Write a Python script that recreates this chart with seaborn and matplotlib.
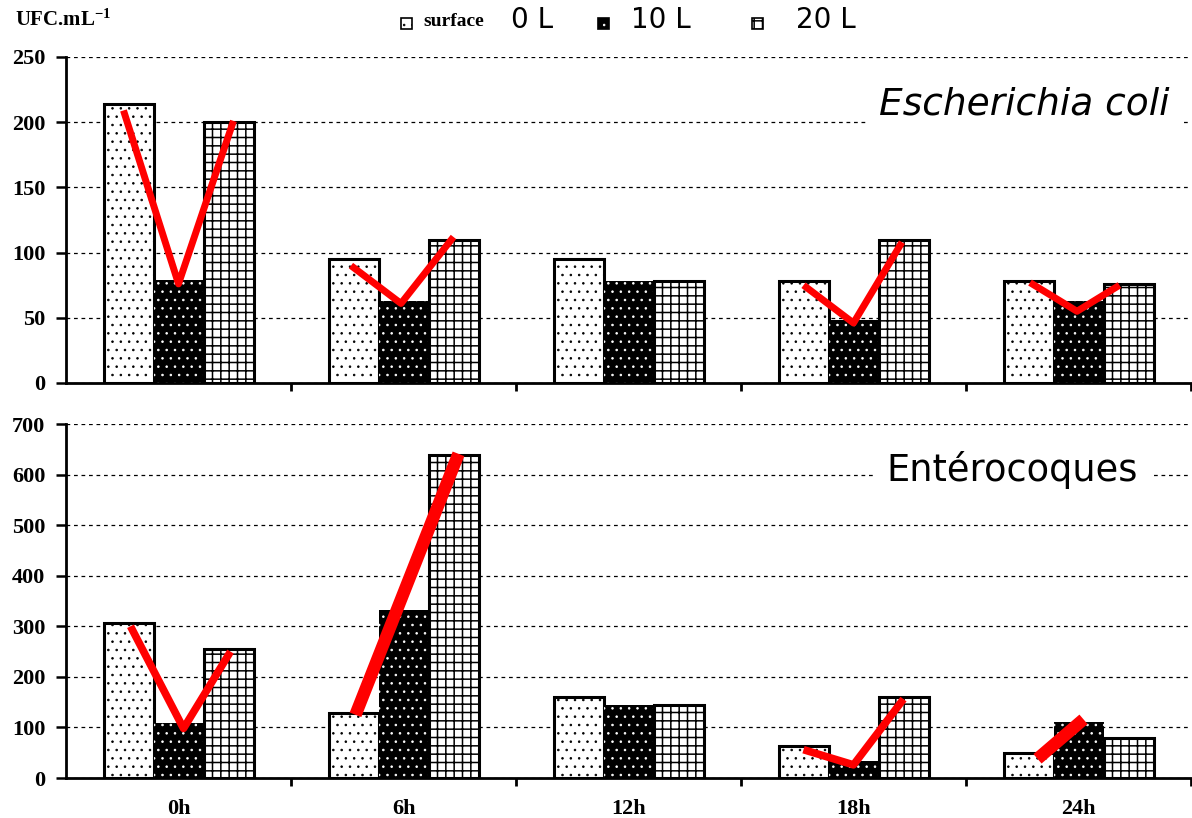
import matplotlib
matplotlib.use("Agg")
import matplotlib.pyplot as plt
from matplotlib.patches import Rectangle
import seaborn as sns
import pandas as pd

# ---- data ----
times = ["0h", "6h", "12h", "18h", "24h"]
volumes = ["0 L", "10 L", "20 L"]

ecoli_0L = [214, 95, 95, 78, 78]
ecoli_10L = [79, 63, 78, 48, 63]
ecoli_20L = [200, 110, 78, 110, 76]

entero_0L = [307, 129, 161, 64, 50]
entero_10L = [109, 332, 144, 33, 110]
entero_20L = [255, 638, 144, 161, 80]

# red trend strokes: category index, bar slot (-1 = 0 L, 0 = 10 L, 1 = 20 L), value
ecoli_trend_time = [0, 1, 3, 4]
ecoli_trend_slots = [[-1.1, 0, 1.1], [-1.05, -0.05, 1.0], [-1.0, 0, 0.97], [-0.97, -0.03, 0.82]]
ecoli_trend_vals = [[209, 76, 201], [90, 61, 112], [75, 46, 108], [77, 55, 75]]

entero_trend_time = [0, 1, 3, 4]
entero_trend_slots = [[-0.96, 0.1, 1.04], [-0.96, 1.1], [-1.0, 0, 1.0], [-0.82, 0.1]]
entero_trend_vals = [[300, 98, 250], [125, 641], [56, 26, 156], [38, 116]]
entero_trend_lw = [5.5, 9, 5.5, 9]

ecoli_ticks = [0, 50, 100, 150, 200, 250]
entero_ticks = [0, 100, 200, 300, 400, 500, 600, 700]

# ---- style ----
sns.set_style("white")
plt.rcParams["font.family"] = ["DejaVu Sans"]
plt.rcParams["text.color"] = "black"
plt.rcParams["axes.labelcolor"] = "black"
plt.rcParams["xtick.color"] = "black"
plt.rcParams["ytick.color"] = "black"
plt.rcParams["hatch.linewidth"] = 0.6
plt.rcParams["mathtext.fontset"] = "custom"
plt.rcParams["mathtext.rm"] = "Liberation Serif:bold"
plt.rcParams["mathtext.default"] = "rm"

SERIF = "Liberation Serif"
HATCHES = ["..", "..", "++"]
FACES = ["white", "black", "white"]
HATCH_LW = [0.6, 0.6, 1.1]
SLOT = 2 / 3 / 3


def long_frame(a, b, c):
    rows = []
    for vol, vals in zip(volumes, [a, b, c]):
        for t, v in zip(times, vals):
            rows.append({"time": t, "volume": vol, "value": v})
    return pd.DataFrame(rows)


def dress_patch(p, face, hatch, hlw, edge_lw):
    p.set_facecolor(face)
    p.set_hatch(hatch)
    if hasattr(p, "set_hatch_linewidth"):
        p.set_hatch_linewidth(hlw)
    if face == "black":
        p.set_edgecolor("white")
        p.set_linewidth(0)
        if hasattr(p, "set_hatchcolor"):
            p.set_hatchcolor("white")
    else:
        p.set_edgecolor("black")
        p.set_linewidth(edge_lw)
        if hasattr(p, "set_hatchcolor"):
            p.set_hatchcolor("black")


def style_bars(ax):
    for cont, face, hatch, hlw in zip(ax.containers, FACES, HATCHES, HATCH_LW):
        for bar in cont:
            dress_patch(bar, face, hatch, hlw, 2.2)
            bar.set_zorder(2)


def panel(ax, frame, ymax, ticks, show_labels):
    sns.barplot(data=frame, x="time", y="value", hue="volume", order=times,
                hue_order=volumes, width=2 / 3, saturation=1, legend=False,
                palette=["white", "black", "white"], ax=ax)
    style_bars(ax)
    ax.set_xlim(-0.5, 4.5)
    ax.set_ylim(0, ymax)
    ax.set_yticks(ticks)
    ax.set_xlabel("")
    ax.set_ylabel("")
    ax.set_axisbelow(True)
    ax.yaxis.grid(True, linestyle=(0, (3, 3)), color="black", linewidth=0.9)
    ax.xaxis.grid(False)
    for side in ["top", "right"]:
        ax.spines[side].set_visible(False)
    for side in ["left", "bottom"]:
        ax.spines[side].set_linewidth(2)
        ax.spines[side].set_color("black")
    ax.set_xticks([i + 0.5 for i in range(5)], minor=True)
    ax.tick_params(axis="x", which="minor", direction="out", length=6, width=2, bottom=True)
    ax.tick_params(axis="x", which="major", length=0, pad=15, bottom=False,
                   labelbottom=show_labels)
    ax.tick_params(axis="y", direction="out", length=7, width=1.8, left=True, pad=8)
    for lab in ax.get_yticklabels() + ax.get_xticklabels():
        lab.set_fontfamily(SERIF)
        lab.set_fontweight("bold")
        lab.set_fontsize(16)
        lab.set_color("black")


def trend(ax, t_idx, slots, vals, widths):
    for t, s, v, w in zip(t_idx, slots, vals, widths):
        xs = [t + k * SLOT for k in s]
        ax.plot(xs, v, color="#ff0000", linewidth=w, solid_capstyle="butt",
                solid_joinstyle="round", zorder=5)


W, H = 1192, 818
fig = plt.figure(figsize=(W / 100, H / 100), dpi=100)
ax1 = fig.add_axes([66 / W, 1 - 383 / H, (1191 - 66) / W, (383 - 57) / H])
ax2 = fig.add_axes([66 / W, 1 - 778 / H, (1191 - 66) / W, (778 - 424) / H])

panel(ax1, long_frame(ecoli_0L, ecoli_10L, ecoli_20L), 250, ecoli_ticks, False)
panel(ax2, long_frame(entero_0L, entero_10L, entero_20L), 700, entero_ticks, True)

trend(ax1, ecoli_trend_time, ecoli_trend_slots, ecoli_trend_vals, [5] * 4)
trend(ax2, entero_trend_time, entero_trend_slots, entero_trend_vals, entero_trend_lw)

ax1.text(0.981, 0.853, "Escherichia coli", transform=ax1.transAxes, ha="right",
         va="center", fontsize=27, fontstyle="italic", family="DejaVu Sans",
         color="black",
         bbox=dict(facecolor="white", edgecolor="none", pad=9), zorder=4)
ax2.text(0.953, 0.87, "Entérocoques", transform=ax2.transAxes, ha="right",
         va="center", fontsize=26.5, family="DejaVu Sans", color="black",
         bbox=dict(facecolor="white", edgecolor="none", pad=9), zorder=4)

# unit label
fig.text(15 / W, 1 - 20 / H, r"UFC.mL$^{-1}$", fontsize=15, family=SERIF,
         fontweight="bold", va="center", ha="left", color="black")

# legend row
swatch_left = [401, 598, 752]
label_left = [511, 631, 796]
for x0, lx, vol, face, hatch, hlw in zip(swatch_left, label_left, volumes, FACES,
                                         HATCHES, HATCH_LW):
    r = Rectangle((x0 / W, 1 - 29 / H), 11 / W, 11 / H, transform=fig.transFigure)
    dress_patch(r, face, hatch, hlw, 1.2)
    fig.add_artist(r)
    if face == "black":
        fig.add_artist(Rectangle((x0 / W, 1 - 29 / H), 11 / W, 11 / H,
                                 transform=fig.transFigure, fill=False,
                                 edgecolor="black", linewidth=1.2))
    fig.text(lx / W, 1 - 20 / H, vol, fontsize=20, family="DejaVu Sans",
             va="center", ha="left", color="black")
fig.text(423 / W, 1 - 22 / H, "surface", fontsize=14, family=SERIF,
         fontweight="bold", va="center", ha="left", color="black")

fig.savefig("out.png", dpi=100, facecolor="white")
